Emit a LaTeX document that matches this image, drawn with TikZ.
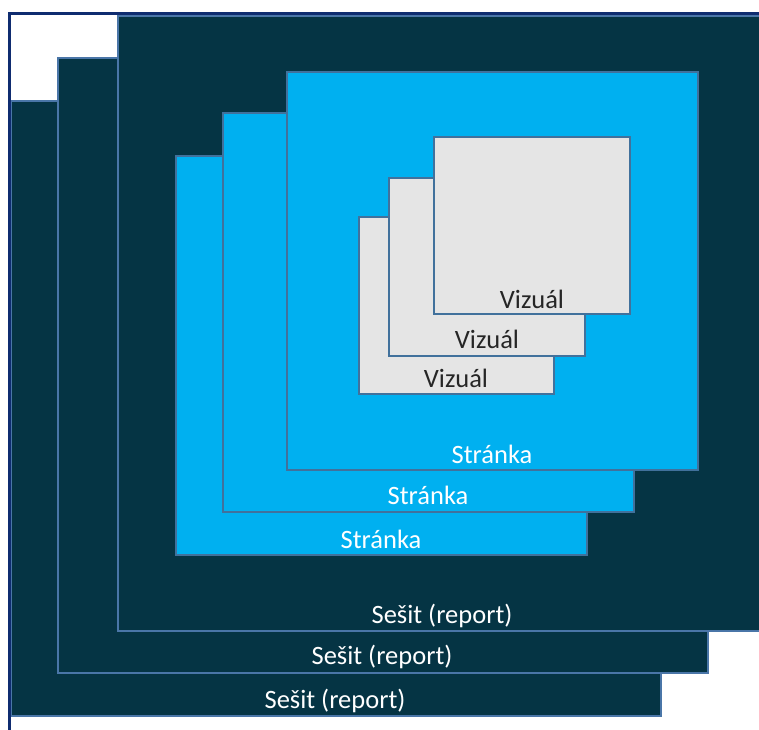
\documentclass[tikz,border=0pt]{standalone}
\usepackage{fontspec}
\setmainfont{Carlito}
\definecolor{darkfill}{HTML}{053444}
\definecolor{darkedge}{HTML}{4A76A8}
\definecolor{bluefill}{HTML}{00B0F0}
\definecolor{blueedge}{HTML}{41719C}
\definecolor{grayfill}{HTML}{E5E5E5}
\definecolor{frameblue}{HTML}{0F2C70}
\tikzset{
  box/.style={rectangle, anchor=north west, inner sep=0pt, outer sep=0pt, line width=1.5pt},
  sesit/.style={box, fill=darkfill, draw=darkedge, minimum width=650pt, minimum height=615pt},
  page/.style={box, fill=bluefill, draw=blueedge, minimum width=411pt, minimum height=398pt},
  visual/.style={box, fill=grayfill, draw=blueedge, minimum width=196pt, minimum height=177pt},
  lbl/.style={anchor=base, inner sep=0pt, font=\fontsize{26.5}{30}\selectfont},
}
\begin{document}
\begin{tikzpicture}[x=1pt,y=-1pt]
\useasboundingbox (0,0) rectangle (759,729);
\clip (0,0) rectangle (759,729);
\fill[white] (0,0) rectangle (759,729);
% workbooks (front-left first, top-right on top)
\node[sesit] (s1) at (11,101) {};
\node[lbl, text=white] (ts1) at (335,708) {Sešit (report)};
\node[sesit] (s2) at (58,58) {};
\node[lbl, text=white] (ts2) at (382,664) {Sešit (report)};
\node[sesit] (s3) at (118,16) {};
\node[lbl, text=white] (ts3) at (442,623) {Sešit (report)};
% pages
\node[page, minimum height=399pt] (p1) at (176,156) {};
\node[lbl, text=white] (tp1) at (381,548) {Stránka};
\node[page, minimum height=399pt] (p2) at (223,113) {};
\node[lbl, text=white] (tp2) at (428,504) {Stránka};
\node[page] (p3) at (287,72) {};
\node[lbl, text=white] (tp3) at (492,463) {Stránka};
% visuals
\node[visual, minimum width=195pt] (v1) at (359,217) {};
\node[lbl, text=black!85] (tv1) at (456,387) {Vizuál};
\node[visual, minimum height=178pt] (v2) at (389,178) {};
\node[lbl, text=black!85] (tv2) at (487,348) {Vizuál};
\node[visual] (v3) at (434,137) {};
\node[lbl, text=black!85] (tv3) at (532,308) {Vizuál};
% outer frame
\draw[frameblue, line width=3pt] (9,760) -- (9,13.5) -- (780,13.5);
\end{tikzpicture}
\end{document}
